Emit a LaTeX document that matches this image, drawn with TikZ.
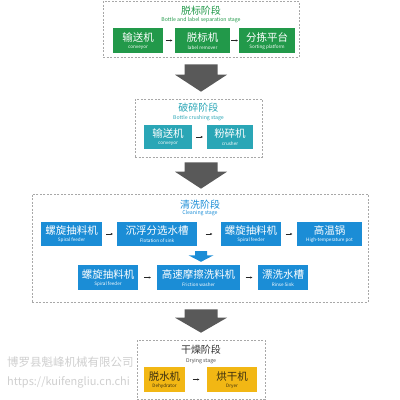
\documentclass[tikz,border=0pt]{standalone}
\usepackage{fontspec}
\setmainfont{Noto Sans CJK SC}
\usetikzlibrary{calc,arrows.meta}
\definecolor{cgreen}{HTML}{22994A}
\definecolor{cteal}{HTML}{2AA6B6}
\definecolor{cblue}{HTML}{1B8DD6}
\definecolor{cyellow}{HTML}{F2B714}
\definecolor{cdark}{HTML}{3A2E10}
\definecolor{cborder}{HTML}{A8A8A8}
\definecolor{carrow}{HTML}{595959}
\definecolor{cwater}{HTML}{CFCFCF}
\tikzset{
  stage/.style={draw=cborder, dash pattern=on 2pt off 1.5pt, line width=0.6pt, inner sep=0pt},
  proc/.style={inner sep=0pt, draw=none},
  cnt/.style={font=\fontsize{10.5}{10.5}\selectfont, inner sep=0pt},
  ent/.style={font=\fontsize{4.6}{4.6}\selectfont, inner sep=0pt},
  ttl/.style={font=\fontsize{10}{10}\selectfont, inner sep=0pt},
  sbt/.style={font=\fontsize{5.2}{5.2}\selectfont, inner sep=0pt},
  flow/.style={-{Latex[length=2.2pt,width=2.4pt]}, line width=0.6pt, draw=black!85},
  bigarr/.style={fill=carrow, draw=none},
  water/.style={text=cwater, inner sep=0pt, anchor=west},
}
% name, fill, x1, y1, x2, y2, chinese, english, textcolour
\newcommand\pbox[9]{%
  \node[proc, fill=#2, minimum width={(#5-#3)*1pt}, minimum height={(#6-#4)*1pt}] (#1) at ({(#3+#5)/2},{(#4+#6)/2}) {};
  \node[cnt, text=#9] (#1-cn) at ($(#1.north)+(0,{(#6-#4)*0.38})$) {#7};
  \node[ent, text=#9] (#1-en) at ($(#1.north)+(0,{(#6-#4)*0.78})$) {#8};
}
\newcommand\flowarr[2]{%
  \draw[flow] ($($(#1.east)!0.5!(#2.west)$)+(-3.5,0)$) -- ($($(#1.east)!0.5!(#2.west)$)+(3.5,0)$);
}
% from-node, to-node, shaft half, head half, colour, top gap, head len, bottom gap
\newcommand\downarr[8]{%
  \fill[#5] ($(ax |- #1.south)+(-#3,#6)$) -- ($(ax |- #1.south)+(#3,#6)$)
     -- ($(ax |- #2.north)+(#3,{-#8-#7})$) -- ($(ax |- #2.north)+(#4,{-#8-#7})$)
     -- ($(ax |- #2.north)+(0,-#8)$)
     -- ($(ax |- #2.north)+(-#4,{-#8-#7})$) -- ($(ax |- #2.north)+(-#3,{-#8-#7})$) -- cycle;
}
\begin{document}
\begin{tikzpicture}[x=1pt,y=-1pt]
\useasboundingbox (0,0) rectangle (400,400);
\coordinate (ax) at (201,0);

% watermark
\node[water, font=\fontsize{11.5}{11.5}\selectfont] (wm1) at (7,362) {博罗县魁峰机械有限公司};
\node[water, font=\fontsize{11}{11}\selectfont] (wm2) at (7,382) {https://kuifengliu.cn.chi};

% stage 1
\node[stage, minimum width=196pt, minimum height=56pt] (st1) at (201,29) {};
\node[ttl, text=cgreen] (st1-t) at (201,11) {脱标阶段};
\node[sbt, text=cgreen] (st1-s) at (201,20.5) {Bottle and label separation stage};
\pbox{s1a}{cgreen}{113}{28}{163}{53}{输送机}{conveyor}{white}
\pbox{s1b}{cgreen}{175}{28}{230}{53}{脱标机}{label remover}{white}
\pbox{s1c}{cgreen}{239}{28}{295}{53}{分拣平台}{Sorting platform}{white}
\flowarr{s1a}{s1b}
\flowarr{s1b}{s1c}

% stage 2
\node[stage, minimum width=127pt, minimum height=58pt] (st2) at (198.5,128) {};
\node[ttl, text=cteal] (st2-t) at (198.5,108) {破碎阶段};
\node[sbt, text=cteal] (st2-s) at (198.5,118) {Bottle crushing stage};
\pbox{s2a}{cteal}{144}{125}{192}{149}{输送机}{conveyor}{white}
\pbox{s2b}{cteal}{207}{125}{253}{149}{粉碎机}{crusher}{white}
\flowarr{s2a}{s2b}

% stage 3
\node[stage, minimum width=336pt, minimum height=108pt] (st3) at (200,248) {};
\node[ttl, text=cblue] (st3-t) at (200,205) {清洗阶段};
\node[sbt, text=cblue] (st3-s) at (200,213.5) {Cleaning stage};
\pbox{s3a}{cblue}{41}{222}{102}{246}{螺旋抽料机}{Spiral feeder}{white}
\pbox{s3b}{cblue}{117}{222}{197}{246}{沉浮分选水槽}{Flotation of sink}{white}
\pbox{s3c}{cblue}{221}{222}{281}{246}{螺旋抽料机}{Spiral feeder}{white}
\pbox{s3d}{cblue}{297}{222}{362}{246}{高温锅}{High-temperature pot}{white}
\pbox{s3e}{cblue}{78}{265}{138}{290}{螺旋抽料机}{Spiral feeder}{white}
\pbox{s3f}{cblue}{157}{265}{240}{290}{高速摩擦洗料机}{Friction washer}{white}
\pbox{s3g}{cblue}{258}{265}{308}{290}{漂洗水槽}{Rinse Sink}{white}
\flowarr{s3a}{s3b}
\flowarr{s3b}{s3c}
\flowarr{s3c}{s3d}
\flowarr{s3e}{s3f}
\flowarr{s3f}{s3g}
\downarr{s3b}{s3f}{6}{12.5}{cblue}{5}{6.5}{3}

% stage 4
\node[stage, minimum width=128pt, minimum height=59pt] (st4) at (201,369.5) {};
\node[ttl, text=black!80] (st4-t) at (201,350) {干燥阶段};
\node[sbt, text=black!70] (st4-s) at (201,361) {Drying stage};
\pbox{s4a}{cyellow}{144}{367}{185}{392}{脱水机}{Dehydrator}{cdark}
\pbox{s4b}{cyellow}{207}{367}{257}{392}{烘干机}{Dryer}{cdark}
\flowarr{s4a}{s4b}

% big arrows between stages
\downarr{st1}{st2}{16.5}{26}{carrow}{7}{17}{7}
\downarr{st2}{st3}{16.5}{26}{carrow}{5}{17}{5}
\downarr{st3}{st4}{16.5}{26}{carrow}{7}{15}{7}
\end{tikzpicture}
\end{document}
